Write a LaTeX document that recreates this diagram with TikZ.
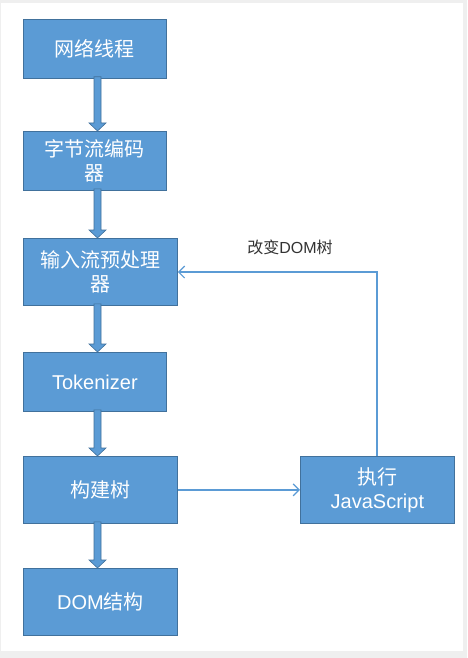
\documentclass[tikz,border=0pt]{standalone}
\usepackage{fontspec}
\setmainfont{Liberation Sans}
\newfontfamily\cjk{Noto Sans CJK SC}
\usetikzlibrary{calc,arrows.meta}
\definecolor{boxblue}{HTML}{5B9BD5}
\definecolor{boxline}{HTML}{41719C}
\definecolor{pagegray}{HTML}{EFEFEF}
\tikzset{
  stage/.style={draw=boxline,fill=boxblue,line width=0.8pt,text=white,anchor=north west,
    inner sep=0pt,align=center,font=\fontsize{20}{24}\selectfont},
  blockarr/.style={draw=boxline,fill=boxblue,line width=0.6pt},
  link/.style={draw=boxblue,line width=1.2pt,-{Straight Barb[length=6pt,width=12pt]}}
}
% block arrow down from #1 to #2
\newcommand{\flowarrow}[2]{%
  \filldraw[blockarr] let \p1=(#1), \p2=(#2) in
    (\x1-3.5pt,\y1+2pt) -- (\x1-3.5pt,\y2+8pt) -- (\x1-8.5pt,\y2+8pt) -- (\x1,\y2)
    -- (\x1+8.5pt,\y2+8pt) -- (\x1+3.5pt,\y2+8pt) -- (\x1+3.5pt,\y1+2pt) -- cycle;}
\begin{document}
\begin{tikzpicture}[x=1pt,y=-1pt]
    \fill[pagegray](0,0)rectangle(467,658);
    \fill[white](1,3)rectangle(463,651);
    \node[stage,minimum width=143pt,minimum height=59pt](net)at(23,19){\cjk 网络线程};
    \node[stage,minimum width=143pt,minimum height=59pt](dec)at(23,131){\cjk 字节流编码\\\cjk 器};
    \node[stage,minimum width=154pt,minimum height=67pt](pre)at(23,238){\cjk 输入流预处理\\\cjk 器};
    \node[stage,minimum width=143pt,minimum height=59pt](tok)at(23,352){Tokenizer};
    \node[stage,minimum width=154pt,minimum height=67pt](tree)at(23,456){\cjk 构建树};
    \node[stage,minimum width=154pt,minimum height=67pt](dom)at(23,568){DOM{\cjk 结构}};
    \node[stage,minimum width=154pt,minimum height=67pt](js)at(300,456){{\cjk 执行}\\JavaScript};
    \flowarrow{[xshift=74.5pt]net.south west}{[xshift=74.5pt]dec.north west}
    \flowarrow{[xshift=74.5pt]dec.south west}{[xshift=74.5pt]pre.north west}
    \flowarrow{[xshift=74.5pt]pre.south west}{[xshift=74.5pt]tok.north west}
    \flowarrow{[xshift=74.5pt]tok.south west}{[xshift=74.5pt]tree.north west}
    \flowarrow{[xshift=74.5pt]tree.south west}{[xshift=74.5pt]dom.north west}
    \draw[link](tree.east)--(js.west);
    \coordinate(turn)at(377,272);
    \draw[link]([xshift=77pt]js.north west)--(turn)--(turn-|pre.east);
    \node[text=black!80,font=\fontsize{16}{19}\selectfont](chg)at(290,247){{\cjk 改变}DOM{\cjk 树}};
\end{tikzpicture}
\end{document}
